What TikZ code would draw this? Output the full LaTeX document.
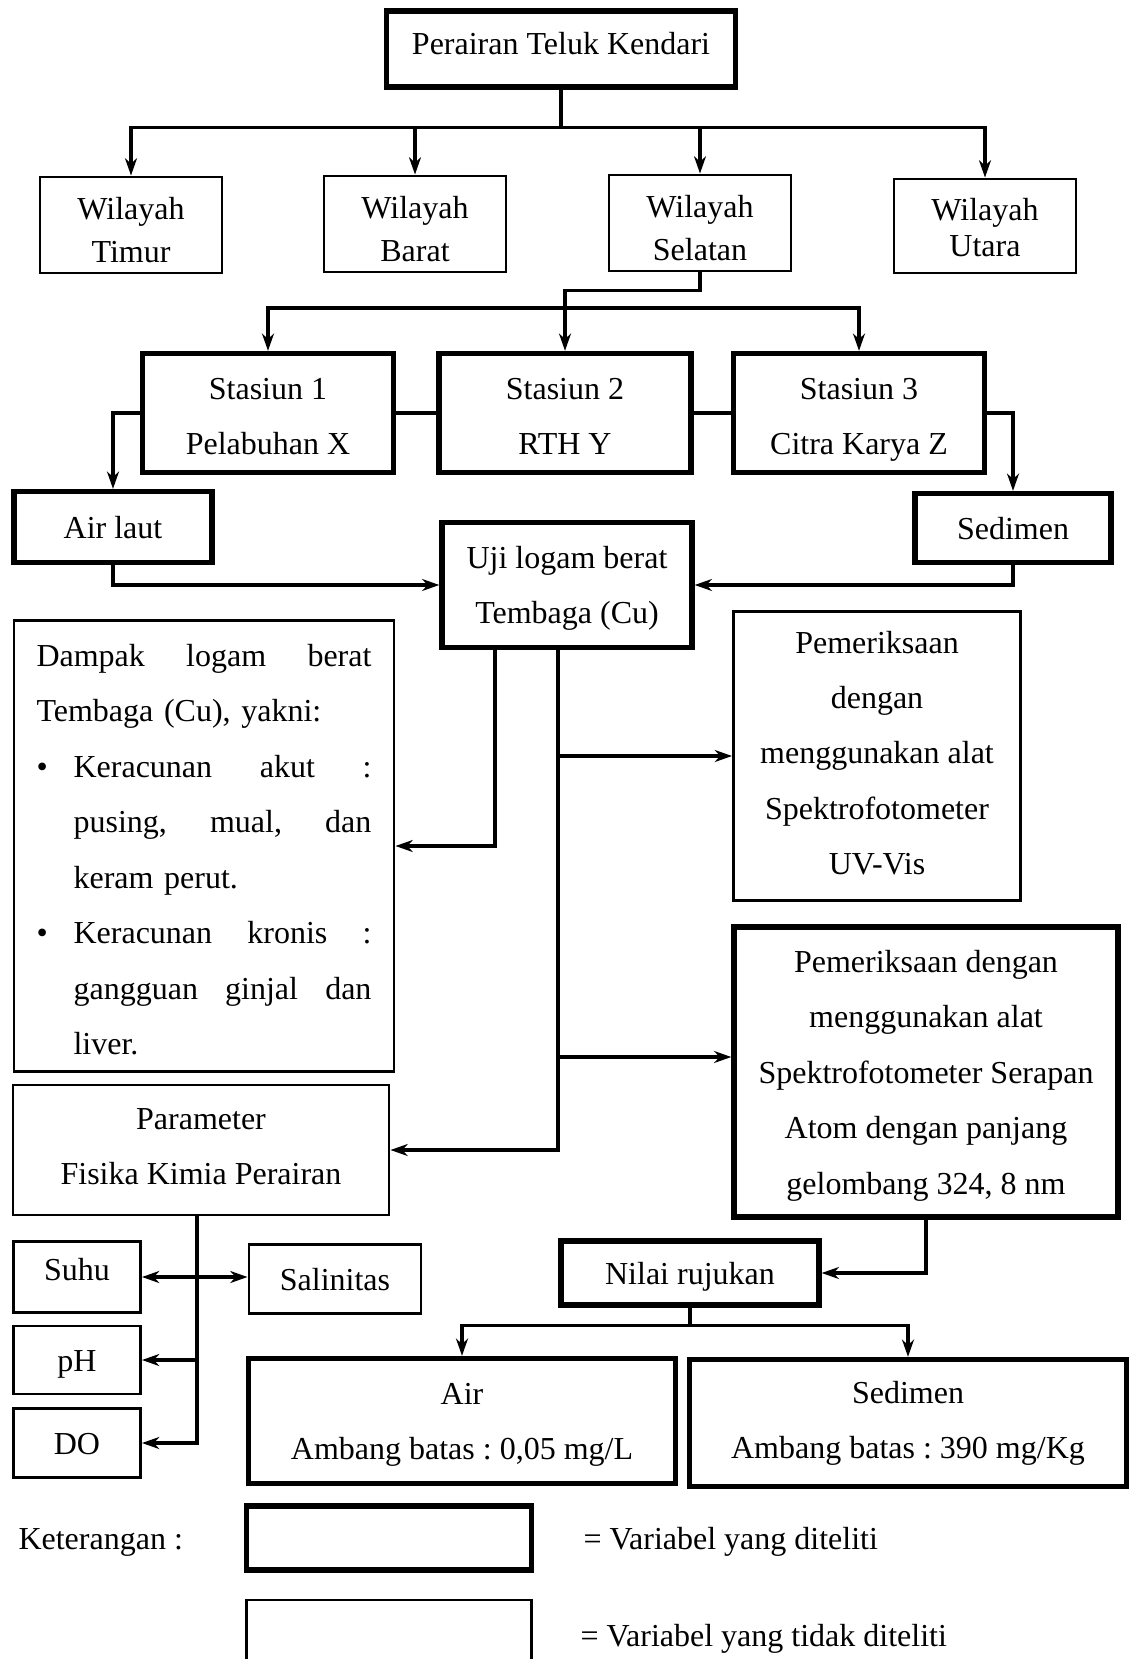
\documentclass[tikz,border=0pt]{standalone}
\usepackage{fontspec}
\setmainfont{Liberation Serif}
\usetikzlibrary{positioning,arrows.meta,calc}
\frenchspacing
\newlength{\bulind}
\setlength{\bulind}{13.9pt}
\newlength{\dampw}
\setlength{\dampw}{125.6pt}
\newcommand{\jline}[1]{\makebox[\dampw][s]{\spaceskip=0pt\xspaceskip=0pt #1}}
\newcommand{\bline}[1]{\makebox[\bulind][l]{\textbullet}\makebox[\dimexpr\dampw-\bulind\relax][s]{\spaceskip=0pt\xspaceskip=0pt #1}}
\newcommand{\iline}[1]{\hspace*{\bulind}\makebox[\dimexpr\dampw-\bulind\relax][s]{\spaceskip=0pt\xspaceskip=0pt #1}}
\newcommand{\pline}[1]{\hspace*{\bulind}#1}
\newcommand{\lowstrut}[1]{\rule[-#1]{0pt}{#1}}
\newcommand{\highstrut}[1]{\rule{0pt}{#1}}
\begin{document}
\begin{tikzpicture}[x=0.375pt,y=-0.375pt,
  every node/.style={font=\fontsize{12}{20.8}\selectfont, align=center, inner sep=0pt},
  sz/.style 2 args={minimum width=#1*0.375pt, minimum height=#2*0.375pt},
  thickbox/.style={draw, line width=2pt},
  thinbox/.style={draw, line width=1.1pt},
  conn/.style={line width=1.3pt},
  arr/.style={conn, -{Stealth[length=6.5pt,width=4.5pt]}},
  darr/.style={conn, {Stealth[length=6.5pt,width=4.5pt]}-{Stealth[length=6.5pt,width=4.5pt]}},
  wil/.style={thinbox, sz={182}{96}, font=\fontsize{12}{16}\selectfont},
]
\useasboundingbox (0,0) rectangle (1130,1659);

\node[thickbox, sz={349}{76}] (perairan) at (561,49) {\strut Perairan Teluk Kendari\lowstrut{10.1pt}};
\node[wil] (timur) at (131,225) {\highstrut{12pt}Wilayah\\Timur};
\node[wil] (barat) at (415,224) {\highstrut{12pt}Wilayah\\Barat};
\node[wil] (selatan) at (700,223) {\highstrut{12pt}Wilayah\\Selatan};
\node[wil, minimum height=94*0.375pt, font=\fontsize{12}{13.5}\selectfont] (utara) at (985,226) {\highstrut{13.5pt}Wilayah\\Utara\strut};

\node[thickbox, sz={251}{119}] (st1) at (268,413) {\highstrut{16.6pt}Stasiun 1\\Pelabuhan X\strut};
\node[thickbox, sz={252}{119}] (st2) at (565,413) {\highstrut{16.6pt}Stasiun 2\\RTH Y\strut};
\node[thickbox, sz={251}{119}] (st3) at (859,413) {\highstrut{16.6pt}Stasiun 3\\Citra Karya Z\strut};

\node[thickbox, sz={198}{71}] (airlaut) at (113,527) {\strut Air laut};
\node[thickbox, sz={196}{69}] (sedimen) at (1013,528) {\strut Sedimen};
\node[thickbox, sz={250}{125}] (uji) at (567,585) {\strut Uji logam berat\\Tembaga (Cu)\strut};

\node[thinbox, sz={380}{449}, text width=\dampw, align=left] (dampak) at (204,846) {%
  \highstrut{17pt}\jline{Dampak logam berat}\\
  Tembaga (Cu), yakni:\\
  \bline{Keracunan akut :}\\
  \iline{pusing, mual, dan}\\
  \pline{keram perut.}\\
  \bline{Keracunan kronis :}\\
  \iline{gangguan ginjal dan}\\
  \pline{liver.}\strut};
\node[thinbox, sz={287}{289}] (uvvis) at (877,756) {\strut Pemeriksaan\\dengan\\menggunakan alat\\Spektrofotometer\\UV-Vis\lowstrut{8.6pt}};
\node[thickbox, sz={384}{290}] (ssa) at (926,1072) {\strut Pemeriksaan dengan\\menggunakan alat\\Spektrofotometer Serapan\\Atom dengan panjang\\gelombang 324, 8 nm\strut};
\node[thinbox, sz={376}{130}] (param) at (201,1150) {\strut Parameter\\Fisika Kimia Perairan\lowstrut{9.4pt}};

\node[thinbox, sz={127}{69}] (suhu) at (77,1277) {\strut Suhu\lowstrut{11.8pt}};
\node[thinbox, sz={172}{69}] (salin) at (335,1279) {\strut Salinitas};
\node[thinbox, sz={127}{68}] (ph) at (77,1360) {\strut pH};
\node[thinbox, sz={127}{69}] (do) at (77,1443) {\strut DO};

\node[thickbox, sz={258}{64}] (nilai) at (690,1273) {\strut Nilai rujukan};
\node[thickbox, sz={427}{125}] (air) at (462,1421) {\strut Air\\Ambang batas : 0,05 mg/L\strut};
\node[thickbox, sz={437}{127}] (sed2) at (908,1423) {\strut Sedimen\\Ambang batas : 390 mg/Kg\lowstrut{8.6pt}};

\node[anchor=west] (ket) at (18,1538) {\strut Keterangan :};
\node[thickbox, sz={285}{64}] (leg1) at (389,1538) {};
\node[anchor=west] (leg1txt) at (583,1538) {\strut = Variabel yang diteliti};
\node[thinbox, sz={285}{64}] (leg2) at (389,1632) {};
\node[anchor=west] (leg2txt) at (580,1635) {\strut = Variabel yang tidak diteliti};

% wilayah
\coordinate (wbus) at ($(perairan.south)+(0,38)$);
\draw[conn] (perairan.south) -- (wbus);
\foreach \w in {timur,barat,selatan,utara}
  \draw[arr] (wbus) -| (\w.north);

% stasiun
\coordinate (sbus) at (565,308);
\draw[arr] (selatan.south) -- ++(0,18) -| (st2.north);
\draw[arr] (sbus) -| (st1.north);
\draw[arr] (sbus) -| (st3.north);
\draw[conn] (st1) -- (st2);
\draw[conn] (st2) -- (st3);
\draw[arr] (st1.west) -| (airlaut.north);
\draw[arr] (st3.east) -| (sedimen.north);
\draw[arr] (airlaut.south) |- (uji.west);
\draw[arr] (sedimen.south) |- (uji.east);

% uji
\coordinate (ujiL) at ($(uji.south)+(-72,0)$);
\coordinate (trunk) at ($(uji.south)+(-9,0)$);
\draw[arr] (ujiL) |- (dampak.east);
\draw[arr] (trunk) |- (param.east);
\draw[arr] (trunk |- uvvis.west) -- (uvvis.west);
\draw[arr] (trunk |- 0,1057) -- (ssa.west |- 0,1057);

% parameter
\coordinate (parB) at ($(param.south)+(-4,0)$);
\draw[arr] (parB) |- (do.east);
\draw[arr] (parB |- ph.east) -- (ph.east);
\draw[darr] (suhu.east) -- (suhu.east -| salin.west);

% nilai rujukan
\draw[arr] (ssa.south) |- (nilai.east);
\coordinate (nbus) at ($(nilai.south)+(0,18)$);
\draw[conn] (nilai.south) -- (nbus);
\draw[arr] (nbus) -| (air.north);
\draw[arr] (nbus) -| (sed2.north);
\end{tikzpicture}
\end{document}
